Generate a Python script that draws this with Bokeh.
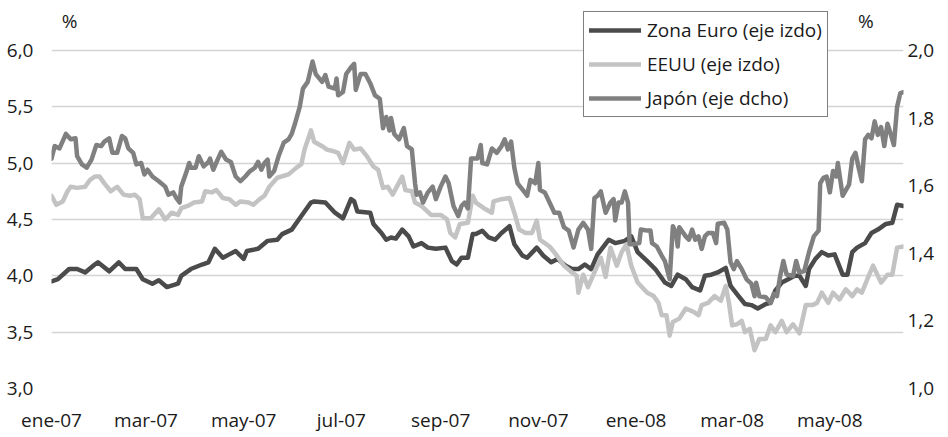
import pandas as pd
from bokeh.plotting import figure
from bokeh.models import (Range1d, LinearAxis, FixedTicker, CustomJSTickFormatter,
                          Legend, LegendItem, Label, ColumnDataSource)
from bokeh.embed import file_html
from bokeh.resources import INLINE

# ---------------- data ----------------
start = pd.Timestamp("2007-01-01")
end_day = 532   # last observation: mid-June 2008

# Zona Euro, % (left axis): day offset from 1 Jan 2007, value
eu_days = [0, 4, 11, 16, 21, 27, 29, 36, 42, 46, 53, 57, 63, 67, 72, 79, 81, 87, 94, 98,
           102, 107, 111, 115, 120, 122, 129, 135, 141, 144, 150, 156, 162, 164, 171, 177,
           182, 187, 189, 191, 199, 201, 206, 209, 212, 215, 219, 223, 226, 231, 235, 240,
           246, 250, 253, 256, 260, 263, 265, 269, 273, 277, 281, 286, 289, 294, 297, 303,
           307, 312, 316, 321, 325, 329, 333, 337, 341, 348, 352, 358, 362, 366, 372, 377,
           383, 387, 391, 396, 400, 405, 408, 412, 416, 421, 424, 429, 433, 437, 441, 446,
           449, 452, 456, 460, 464, 467, 471, 473, 477, 481, 485, 489, 494, 497, 500, 503,
           508, 512, 516, 521, 525, 528, 532]
eu_vals = [3.95, 3.97, 4.06, 4.06, 4.03, 4.10, 4.12, 4.04, 4.12, 4.06, 4.06, 3.97, 3.93, 3.96,
           3.90, 3.93, 4.00, 4.06, 4.10, 4.12, 4.24, 4.16, 4.19, 4.22, 4.15, 4.22, 4.24, 4.31,
           4.32, 4.37, 4.41, 4.53, 4.65, 4.66, 4.65, 4.56, 4.51, 4.68, 4.66, 4.57, 4.56, 4.46,
           4.38, 4.32, 4.34, 4.33, 4.41, 4.35, 4.26, 4.29, 4.25, 4.24, 4.25, 4.13, 4.10, 4.16,
           4.16, 4.37, 4.37, 4.40, 4.34, 4.32, 4.38, 4.44, 4.28, 4.18, 4.16, 4.25, 4.18, 4.12,
           4.15, 4.09, 4.06, 4.06, 4.10, 4.06, 4.19, 4.32, 4.29, 4.31, 4.35, 4.21, 4.13, 4.06,
           3.94, 3.91, 4.01, 3.97, 3.90, 3.87, 4.00, 4.01, 4.03, 4.07, 3.91, 3.82, 3.75, 3.74,
           3.71, 3.75, 3.76, 3.87, 3.94, 3.97, 4.00, 4.00, 3.91, 4.06, 4.15, 4.21, 4.18, 4.19,
           4.01, 4.01, 4.21, 4.25, 4.29, 4.38, 4.41, 4.46, 4.47, 4.63, 4.62]

# EEUU, % (left axis)
us_days = [0, 3, 7, 10, 12, 16, 21, 24, 27, 30, 33, 37, 41, 45, 49, 52, 55, 57, 62, 67,
           71, 75, 79, 81, 85, 89, 94, 96, 100, 103, 107, 111, 115, 118, 123, 126, 130, 133,
           136, 141, 148, 153, 156, 158, 162, 164, 169, 172, 175, 179, 182, 186, 189, 193,
           197, 201, 204, 207, 210, 213, 219, 221, 225, 227, 231, 237, 243, 247, 249, 252,
           255, 260, 263, 265, 270, 275, 276, 281, 286, 289, 292, 296, 300, 303, 305, 308,
           311, 315, 320, 325, 328, 329, 332, 335, 339, 343, 346, 349, 353, 356, 359, 362,
           366, 372, 376, 379, 381, 384, 386, 388, 392, 396, 401, 404, 406, 410, 414, 418,
           421, 423, 425, 428, 431, 433, 436, 439, 442, 446, 449, 452, 456, 459, 463, 467,
           471, 475, 478, 481, 485, 488, 492, 496, 500, 503, 506, 510, 513, 515, 518, 522,
           525, 528, 532]
us_vals = [4.71, 4.63, 4.66, 4.75, 4.79, 4.78, 4.79, 4.85, 4.88, 4.88, 4.82, 4.75, 4.79, 4.72,
           4.71, 4.72, 4.68, 4.51, 4.51, 4.59, 4.50, 4.56, 4.54, 4.60, 4.62, 4.65, 4.66, 4.75,
           4.74, 4.76, 4.69, 4.68, 4.63, 4.66, 4.65, 4.63, 4.68, 4.71, 4.79, 4.87, 4.90, 4.96,
           4.99, 5.12, 5.29, 5.19, 5.15, 5.12, 5.11, 5.09, 5.00, 5.18, 5.12, 5.13, 5.06, 4.97,
           4.94, 4.78, 4.79, 4.72, 4.88, 4.76, 4.75, 4.65, 4.62, 4.54, 4.54, 4.50, 4.38, 4.34,
           4.46, 4.47, 4.71, 4.65, 4.60, 4.56, 4.66, 4.68, 4.69, 4.56, 4.41, 4.38, 4.38, 4.49,
           4.32, 4.29, 4.26, 4.19, 4.09, 4.03, 4.00, 3.85, 4.01, 3.90, 4.03, 4.16, 3.99, 4.25,
           4.09, 4.21, 4.28, 4.09, 3.94, 3.85, 3.82, 3.76, 3.65, 3.65, 3.47, 3.59, 3.62, 3.71,
           3.68, 3.65, 3.74, 3.76, 3.82, 3.78, 3.91, 3.76, 3.56, 3.57, 3.60, 3.50, 3.53, 3.34,
           3.44, 3.44, 3.56, 3.50, 3.60, 3.50, 3.57, 3.49, 3.74, 3.74, 3.76, 3.85, 3.76, 3.85,
           3.79, 3.88, 3.82, 3.88, 3.85, 3.99, 4.09, 4.03, 3.94, 4.01, 4.01, 4.25, 4.26]

# Japón, % (right axis)
jp_days = [0, 2, 5, 9, 12, 15, 16, 19, 22, 25, 28, 31, 33, 36, 38, 41, 44, 46, 48, 51,
           53, 56, 58, 60, 63, 67, 71, 73, 76, 78, 80, 81, 84, 86, 87, 90, 92, 95, 98, 99,
           101, 104, 106, 109, 112, 115, 118, 121, 124, 127, 129, 131, 133, 135, 136, 139,
           142, 145, 148, 150, 152, 155, 157, 160, 163, 165, 169, 171, 173, 177, 178, 179,
           182, 184, 187, 189, 190, 193, 196, 199, 202, 205, 207, 209, 211, 212, 214, 217,
           220, 222, 225, 227, 228, 230, 232, 235, 238, 240, 243, 246, 248, 251, 254, 256,
           258, 260, 262, 266, 268, 269, 272, 275, 278, 281, 283, 285, 287, 289, 291, 295,
           297, 299, 302, 304, 305, 308, 311, 314, 317, 320, 323, 326, 329, 332, 335, 337,
           339, 341, 343, 346, 349, 351, 352, 354, 356, 358, 360, 361, 364, 367, 368, 372,
           374, 375, 378, 381, 383, 386, 388, 390, 391, 392, 396, 398, 400, 402, 404, 406,
           408, 410, 413, 415, 416, 420, 422, 424, 426, 428, 431, 434, 437, 439, 440, 442,
           446, 449, 451, 453, 455, 457, 459, 463, 465, 467, 470, 473, 476, 479, 480, 482,
           484, 486, 488, 490, 491, 494, 496, 498, 500, 502, 504, 506, 508, 510, 512, 514,
           516, 518, 520, 522, 524, 526, 528, 530, 532]
jp_vals = [1.680, 1.717, 1.710, 1.753, 1.737, 1.740, 1.687, 1.663, 1.653, 1.677, 1.720, 1.717,
           1.730, 1.740, 1.697, 1.697, 1.747, 1.740, 1.710, 1.697, 1.663, 1.667, 1.633, 1.647,
           1.627, 1.613, 1.597, 1.573, 1.580, 1.563, 1.550, 1.597, 1.637, 1.667, 1.653, 1.653,
           1.687, 1.657, 1.670, 1.680, 1.647, 1.680, 1.700, 1.677, 1.670, 1.627, 1.613, 1.627,
           1.643, 1.653, 1.670, 1.647, 1.667, 1.677, 1.627, 1.643, 1.690, 1.727, 1.737, 1.753,
           1.783, 1.833, 1.887, 1.907, 1.967, 1.930, 1.907, 1.927, 1.893, 1.887, 1.917, 1.867,
           1.877, 1.930, 1.950, 1.960, 1.883, 1.930, 1.930, 1.903, 1.867, 1.857, 1.770, 1.803,
           1.763, 1.800, 1.753, 1.737, 1.770, 1.717, 1.707, 1.607, 1.573, 1.580, 1.550, 1.580,
           1.597, 1.560, 1.597, 1.627, 1.607, 1.540, 1.510, 1.540, 1.550, 1.533, 1.680, 1.680,
           1.720, 1.667, 1.663, 1.710, 1.697, 1.717, 1.737, 1.707, 1.730, 1.653, 1.607, 1.583,
           1.570, 1.617, 1.607, 1.667, 1.587, 1.580, 1.550, 1.520, 1.520, 1.477, 1.467, 1.417,
           1.470, 1.490, 1.470, 1.413, 1.563, 1.570, 1.583, 1.520, 1.550, 1.560, 1.497, 1.550,
           1.550, 1.583, 1.550, 1.427, 1.427, 1.430, 1.470, 1.467, 1.467, 1.430, 1.420, 1.393,
           1.377, 1.323, 1.480, 1.460, 1.420, 1.477, 1.450, 1.440, 1.470, 1.440, 1.450, 1.413,
           1.450, 1.460, 1.460, 1.430, 1.487, 1.490, 1.470, 1.373, 1.353, 1.377, 1.353, 1.323,
           1.310, 1.273, 1.313, 1.273, 1.270, 1.253, 1.280, 1.273, 1.333, 1.377, 1.337, 1.333,
           1.377, 1.343, 1.347, 1.403, 1.450, 1.467, 1.607, 1.623, 1.627, 1.580, 1.643, 1.627,
           1.667, 1.570, 1.587, 1.603, 1.680, 1.697, 1.653, 1.613, 1.737, 1.750, 1.740, 1.790,
           1.750, 1.773, 1.717, 1.783, 1.753, 1.720, 1.833, 1.873, 1.877]

x_tick_dates = ["2007-01-01", "2007-03-01", "2007-05-01", "2007-07-01", "2007-09-01",
                "2007-11-01", "2008-01-01", "2008-03-01", "2008-05-01"]
x_tick_labels = ["ene-07", "mar-07", "may-07", "jul-07", "sep-07",
                 "nov-07", "ene-08", "mar-08", "may-08"]
left_ticks = [3.0, 3.5, 4.0, 4.5, 5.0, 5.5, 6.0]
right_ticks = [1.0, 1.2, 1.4, 1.6, 1.8, 2.0]
series_names = ["Zona Euro (eje izdo)", "EEUU (eje izdo)", "Japón (eje dcho)"]
series_colors = ["#4b4b4b", "#c3c3c3", "#808080"]

# ---------------- figure ----------------
FONT = "Open Sans"
TXT = "#1a1a1a"


def to_dates(days):
    return [start + pd.Timedelta(days=d) for d in days]


src_eu = ColumnDataSource(dict(x=to_dates(eu_days), y=eu_vals))
src_us = ColumnDataSource(dict(x=to_dates(us_days), y=us_vals))
src_jp = ColumnDataSource(dict(x=to_dates(jp_days), y=jp_vals))

# head-room above 6,0 so that the "%" labels and the legend sit inside the frame
y_top = 6.0 + 40 / 113.0
p = figure(width=946, height=435, x_axis_type="datetime",
           x_range=Range1d(start, start + pd.Timedelta(days=end_day)),
           y_range=Range1d(3.0, y_top),
           output_backend="svg", toolbar_location=None,
           min_border_left=51, min_border_right=43, min_border_top=10, min_border_bottom=46)
p.extra_y_ranges = {"jp": Range1d(1.0, y_top / 3.0)}
p.outline_line_color = None
p.background_fill_color = "white"
p.border_fill_color = "white"

tick_ms = [pd.Timestamp(d).timestamp() * 1000 for d in x_tick_dates]
p.xaxis.ticker = FixedTicker(ticks=tick_ms)
p.xaxis.formatter = CustomJSTickFormatter(
    args=dict(tvals=tick_ms, tlabels=x_tick_labels),
    code="const i = tvals.indexOf(tick); return i >= 0 ? tlabels[i] : '';")
p.yaxis.ticker = FixedTicker(ticks=left_ticks)
comma_fmt = "return tick.toFixed(1).replace('.', ',');"
p.yaxis.formatter = CustomJSTickFormatter(code=comma_fmt)

raxis = LinearAxis(y_range_name="jp", ticker=FixedTicker(ticks=right_ticks),
                   formatter=CustomJSTickFormatter(code=comma_fmt))
p.add_layout(raxis, "right")

for ax in [p.xaxis[0], p.yaxis[0], raxis]:
    ax.axis_line_color = None
    ax.major_tick_line_color = None
    ax.minor_tick_line_color = None
    ax.major_tick_out = 0
    ax.major_tick_in = 0
    ax.minor_tick_out = 0
    ax.minor_tick_in = 0
    ax.major_label_text_font = FONT
    ax.major_label_text_font_size = "19px"
    ax.major_label_text_color = TXT
p.xaxis.major_label_standoff = 18
p.yaxis[0].major_label_standoff = 18
raxis.major_label_standoff = 4

p.xgrid.grid_line_color = None
p.ygrid.ticker = FixedTicker(ticks=left_ticks)
p.ygrid.grid_line_color = "#d4d4d4"
p.ygrid.grid_line_width = 1.3

lw = 4.5
r_eu = p.line("x", "y", source=src_eu, line_color=series_colors[0], line_width=lw,
              line_join="round", line_cap="round")
r_us = p.line("x", "y", source=src_us, line_color=series_colors[1], line_width=lw,
              line_join="round", line_cap="round")
r_jp = p.line("x", "y", source=src_jp, line_color=series_colors[2], line_width=lw,
              line_join="round", line_cap="round", y_range_name="jp")

legend = Legend(items=[LegendItem(label=series_names[0], renderers=[r_eu]),
                       LegendItem(label=series_names[1], renderers=[r_us]),
                       LegendItem(label=series_names[2], renderers=[r_jp])],
                location=(532, 271))
legend.label_text_font = FONT
legend.label_text_font_size = "19px"
legend.label_text_color = TXT
legend.border_line_color = "black"
legend.border_line_width = 1
legend.background_fill_color = "white"
legend.background_fill_alpha = 1
legend.glyph_width = 52
legend.glyph_height = 20
legend.label_height = 20
legend.label_standoff = 6
legend.spacing = 8
legend.padding = 5
legend.margin = 0
p.add_layout(legend, "center")

pct_left = Label(x=pd.Timestamp("2007-01-12 06:00"), y=6.257, text="%",
                 text_font=FONT, text_font_size="19px", text_color=TXT,
                 text_align="center", text_baseline="middle")
pct_right = Label(x=pd.Timestamp("2008-05-23 10:00"), y=6.257, text="%",
                  text_font=FONT, text_font_size="19px", text_color=TXT,
                  text_align="center", text_baseline="middle")
p.add_layout(pct_left)
p.add_layout(pct_right)

open("out.html", "w").write(file_html(p, INLINE))
